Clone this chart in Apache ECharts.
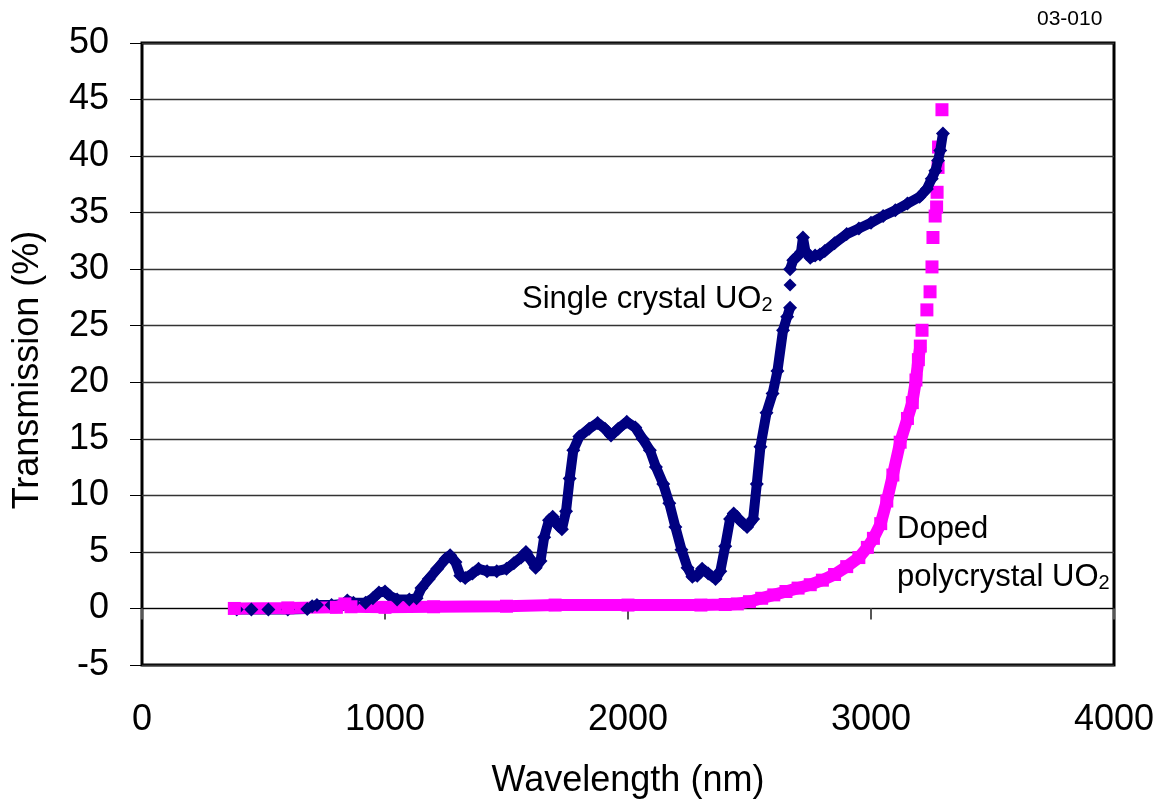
<!DOCTYPE html>
<html>
<head>
<meta charset="utf-8">
<title>Transmission</title>
<script src="https://cdn.jsdelivr.net/npm/echarts@6/dist/echarts.min.js"></script>
<style>
  html, body { margin: 0; padding: 0; background: #fff; }
  #main { width: 1159px; height: 805px; }
</style>
</head>
<body>
<div id="main"></div>
<script>
// axis ticks
var xTicks = [0, 1000, 2000, 3000, 4000];
var yTicks = [-5, 0, 5, 10, 15, 20, 25, 30, 35, 40, 45, 50];

// single crystal UO2 (wavelength nm, transmission %), dense band
var singleBand1 = [
  [390, -0.1], [450, -0.1], [520, -0.1], [600, -0.1], [680, -0.05], [700, 0.2], [720, 0.3],
  [780, 0.3], [830, 0.4], [845, 0.7], [870, 0.5], [920, 0.5], [950, 0.9], [975, 1.4],
  [1000, 1.5], [1020, 1.1], [1050, 0.8], [1100, 0.8], [1130, 0.9], [1150, 1.8], [1180, 2.6],
  [1215, 3.5], [1250, 4.4], [1268, 4.7], [1290, 4.1], [1310, 2.9], [1330, 2.7], [1360, 3.1],
  [1385, 3.5], [1420, 3.3], [1460, 3.3], [1500, 3.5], [1530, 4.0], [1560, 4.5], [1580, 5.0],
  [1600, 4.3], [1620, 3.6], [1640, 4.2], [1655, 6.3], [1675, 7.8], [1690, 8.1], [1710, 7.4],
  [1728, 7.0], [1745, 8.6], [1760, 11.5], [1775, 14.0], [1800, 15.2], [1840, 15.9], [1875, 16.4],
  [1905, 15.9], [1930, 15.3], [1960, 15.9], [1995, 16.5], [2030, 16.0], [2060, 15.0], [2090, 14.0],
  [2115, 12.5], [2145, 11.0], [2170, 9.3], [2195, 7.2], [2220, 5.2], [2245, 3.6], [2265, 2.8],
  [2285, 2.9], [2305, 3.5], [2330, 3.1], [2360, 2.6], [2380, 3.3], [2400, 5.5], [2420, 7.9],
  [2435, 8.4], [2460, 7.8], [2490, 7.2], [2515, 7.9], [2530, 11.0], [2545, 14.3], [2570, 17.3],
  [2595, 19.0], [2615, 21.0], [2638, 24.6], [2655, 25.8], [2667, 26.6]
];
var singleLoose = [[2667, 28.6]];
var singleBand2 = [
  [2667, 30.0], [2680, 30.8], [2700, 31.2], [2712, 31.5], [2720, 32.8], [2730, 31.6], [2750, 31.0],
  [2770, 31.2], [2790, 31.3], [2810, 31.6], [2850, 32.3], [2900, 33.1], [2950, 33.6], [3000, 34.1],
  [3050, 34.7], [3100, 35.2], [3150, 35.8], [3200, 36.4], [3230, 37.1], [3250, 38.0], [3265, 38.7],
  [3276, 39.6], [3285, 40.5], [3296, 42.0]
];

// doped polycrystal UO2
var dopedBand = [
  [380, 0.0], [600, 0.05], [800, 0.1], [835, 0.4], [860, 0.15], [1000, 0.1], [1200, 0.15],
  [1500, 0.2], [1700, 0.3], [2000, 0.3], [2300, 0.3], [2400, 0.35], [2450, 0.4], [2500, 0.6],
  [2550, 0.9], [2600, 1.2], [2650, 1.5], [2700, 1.8], [2750, 2.1], [2800, 2.5], [2850, 3.0],
  [2900, 3.7], [2950, 4.5], [2985, 5.4], [3010, 6.2], [3040, 7.5], [3065, 9.5], [3090, 11.8],
  [3120, 14.7], [3150, 16.8], [3170, 18.2], [3185, 20.2], [3195, 22.0], [3203, 23.2]
];
var dopedLoose = [
  [3210, 24.6], [3230, 26.4], [3243, 28.0], [3251, 30.2], [3255, 32.8], [3264, 34.7],
  [3270, 35.5], [3272, 36.8], [3276, 39.0], [3278, 40.8], [3292, 44.1]
];

var FONT = 'Liberation Sans, Arial, sans-serif';
var NAVY = '#000080';
var PINK = '#ff00ff';

var chart = echarts.init(document.getElementById('main'));

function band(data, color, symbol, size, width) {
  return {
    type: 'line', data: data, xAxisIndex: 0, yAxisIndex: 0,
    symbol: symbol, symbolSize: size, showAllSymbol: true,
    itemStyle: { color: color },
    lineStyle: { color: color, width: width },
    animation: false, silent: true
  };
}
function loose(data, color, symbol, size) {
  return {
    type: 'scatter', data: data, xAxisIndex: 0, yAxisIndex: 0,
    symbol: symbol, symbolSize: size,
    itemStyle: { color: color, opacity: 1 },
    animation: false, silent: true
  };
}

chart.setOption({
  backgroundColor: '#fff',
  animation: false,
  grid: {
    left: 142, top: 43, right: 45, bottom: 140,
    show: true, borderColor: '#000', borderWidth: 3, backgroundColor: 'transparent'
  },
  xAxis: [{
    type: 'value', min: xTicks[0], max: xTicks[xTicks.length - 1], interval: 1000,
    position: 'bottom',
    axisLine: { show: false, onZero: false },
    axisTick: { show: false },
    splitLine: { show: false },
    axisLabel: { color: '#000', fontSize: 36, fontFamily: FONT, margin: 37, formatter: function (v) { return String(v); } },
    name: 'Wavelength (nm)', nameLocation: 'middle', nameGap: 98,
    nameTextStyle: { color: '#000', fontSize: 36, fontFamily: FONT }
  }, {
    type: 'value', min: xTicks[0], max: xTicks[xTicks.length - 1], interval: 1000,
    position: 'bottom',
    axisLine: { show: true, onZero: true, lineStyle: { color: '#000', width: 1 } },
    axisTick: { show: true, inside: false, length: 11, lineStyle: { color: '#555', width: 2 } },
    axisLabel: { show: false },
    splitLine: { show: false }
  }],
  yAxis: {
    type: 'value', min: yTicks[0], max: yTicks[yTicks.length - 1], interval: 5,
    axisLine: { show: false },
    axisTick: { show: true, inside: false, length: 12, lineStyle: { color: '#000', width: 1 } },
    splitLine: { show: true, lineStyle: { color: '#333', width: 1.3 } },
    axisLabel: { color: '#000', fontSize: 36, fontFamily: FONT, margin: 33 },
    name: 'Transmission (%)', nameLocation: 'middle', nameGap: 96,
    nameTextStyle: { color: '#000', fontSize: 36, fontFamily: FONT, padding: [0, 32, 0, 0] }
  },
  series: [
    band(singleBand1, NAVY, 'diamond', 14, 10),
    band(singleBand2, NAVY, 'diamond', 14, 10),
    loose(singleLoose, NAVY, 'diamond', 13),
    band(dopedBand, PINK, 'rect', 13, 12),
    loose(dopedLoose, PINK, 'rect', 13)
  ],
  graphic: [
    {
      type: 'text', left: 1037, top: 9,
      style: { text: '03-010', fill: '#000', fontSize: 21, fontFamily: FONT }
    },
    {
      type: 'text', left: 522, top: 284,
      style: {
        text: '{a|Single crystal UO}{s|2}', fill: '#000', fontFamily: FONT,
        rich: {
          a: { fontSize: 31, lineHeight: 31, fontFamily: FONT, fill: '#000', verticalAlign: 'bottom' },
          s: { fontSize: 20, lineHeight: 12, fontFamily: FONT, fill: '#000', verticalAlign: 'bottom' }
        }
      }
    },
    {
      type: 'text', left: 897, top: 514,
      style: { text: 'Doped', fill: '#000', fontSize: 31, fontFamily: FONT }
    },
    {
      type: 'text', left: 897, top: 562,
      style: {
        text: '{a|polycrystal UO}{s|2}', fill: '#000', fontFamily: FONT,
        rich: {
          a: { fontSize: 31, lineHeight: 31, fontFamily: FONT, fill: '#000', verticalAlign: 'bottom' },
          s: { fontSize: 20, lineHeight: 12, fontFamily: FONT, fill: '#000', verticalAlign: 'bottom' }
        }
      }
    }
  ]
});
</script>
</body>
</html>
